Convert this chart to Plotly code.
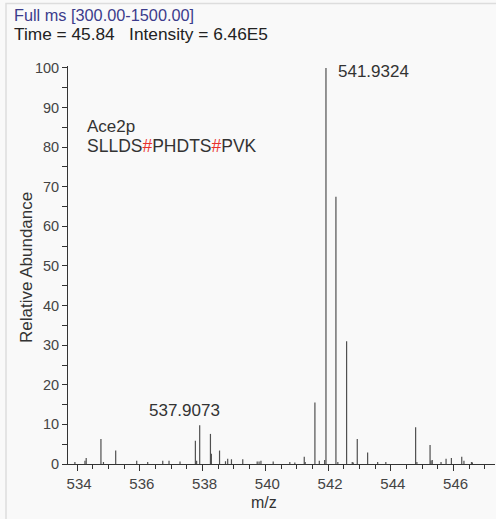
import plotly.graph_objects as go

# peak list: m/z and relative abundance
mz = [533.93, 534.25, 534.29, 534.76, 534.84, 535.23, 535.90, 536.25, 536.73, 536.93,
      537.28, 537.77, 537.81, 537.9073, 538.25, 538.28, 538.54, 538.73, 538.80, 538.92,
      539.28, 539.74, 539.80, 539.86, 540.25, 540.78, 540.94, 541.24, 541.27, 541.58,
      541.72, 541.89, 541.9324, 542.25, 542.31, 542.59, 542.77, 542.80, 542.93, 543.26,
      543.58, 543.84, 544.79, 544.83, 545.25, 545.28, 545.32, 545.60, 545.76, 545.93,
      546.26, 546.33, 546.57, 546.60]
abund = [0.5, 0.8, 1.5, 6.3, 0.5, 3.4, 0.8, 0.5, 0.8, 0.8,
         0.6, 5.9, 0.8, 9.8, 7.6, 2.6, 3.4, 0.7, 1.3, 1.2,
         1.2, 0.6, 0.6, 0.8, 0.6, 0.5, 0.4, 1.8, 0.5, 15.5,
         0.8, 1.0, 100.0, 67.5, 0.5, 31.0, 0.5, 0.4, 6.3, 2.9,
         0.5, 0.5, 9.3, 0.5, 4.8, 0.9, 1.0, 0.5, 1.3, 1.5,
         1.8, 0.8, 0.5, 0.4]

labelled_mz = [541.9324, 537.9073]
labelled_ab = [100.0, 9.8]
labelled_txt = ["541.9324", "537.9073"]

x_ticks = [534, 536, 538, 540, 542, 544, 546]
y_ticks = [0, 10, 20, 30, 40, 50, 60, 70, 80, 90, 100]

FONT = "Liberation Sans, Arial, sans-serif"

W, H = 496, 519
L, R, T, B = 68, 1, 66, 55
pw, ph = W - L - R, H - T - B


def px(x):
    return (x - L) / pw


def py(y):
    return 1 - (y - T) / ph


xs, ys = [], []
for m, a in zip(mz, abund):
    xs += [m, m, None]
    ys += [0, a, None]

fig = go.Figure()
fig.add_trace(go.Scatter(x=xs, y=ys, mode="lines",
                         line=dict(color="#505050", width=1.2),
                         hoverinfo="skip", showlegend=False))

fig.update_layout(
    width=W, height=H,
    margin=dict(l=L, r=R, t=T, b=B),
    paper_bgcolor="#f9f9f9", plot_bgcolor="#f9f9f9",
    font=dict(family=FONT, size=14, color="#333333"),
    showlegend=False,
)
fig.update_xaxes(
    range=[533.71, 547.32], tickvals=x_ticks, ticktext=[str(t) for t in x_ticks],
    showgrid=False, zeroline=False, showline=True, linecolor="#333333", linewidth=1,
    ticks="outside", ticklen=6, tickcolor="#333333", ticklabelshift=2,
    minor=dict(dtick=0.5, tick0=534, ticks="outside", ticklen=4, tickcolor="#333333", showgrid=False),
    tickfont=dict(size=15, color="#444444"),
)
fig.update_yaxes(
    range=[0, 100.5], tickvals=y_ticks, ticktext=[str(t) for t in y_ticks],
    showgrid=False, zeroline=False, showline=True, linecolor="#333333", linewidth=1,
    ticks="outside", ticklen=5, tickcolor="#333333",
    minor=dict(dtick=5, ticks="outside", ticklen=5, tickcolor="#333333", showgrid=False),
    tickfont=dict(size=14.5, color="#444444"),
)

# axis titles
fig.add_annotation(x=px(264), y=py(502), xref="paper", yref="paper", text="m/z",
                   showarrow=False, xanchor="center", yanchor="middle",
                   font=dict(size=16, color="#333333"))
fig.add_annotation(x=px(26), y=py(268), xref="paper", yref="paper", text="Relative Abundance",
                   showarrow=False, xanchor="center", yanchor="middle", textangle=-90,
                   font=dict(size=17, color="#333333"))

# peak labels
fig.add_annotation(x=labelled_mz[0], y=labelled_ab[0], text=labelled_txt[0],
                   xref="x", yref="y", showarrow=False, xanchor="left", yanchor="middle",
                   xshift=10, yshift=-4, font=dict(size=17, color="#333333"))
fig.add_annotation(x=labelled_mz[1], y=labelled_ab[1], text=labelled_txt[1],
                   xref="x", yref="y", showarrow=False, xanchor="center", yanchor="bottom",
                   xshift=-15, yshift=3, font=dict(size=17, color="#333333"))

# header text
fig.add_annotation(x=px(12), y=py(15), xref="paper", yref="paper", text="Full ms [300.00-1500.00]",
                   showarrow=False, xanchor="left", yanchor="middle",
                   font=dict(size=16.3, color="#3c3c8c"))
fig.add_annotation(x=px(12), y=py(34), xref="paper", yref="paper",
                   text="Time = 45.84&nbsp;&nbsp;&nbsp;Intensity = 6.46E5",
                   showarrow=False, xanchor="left", yanchor="middle",
                   font=dict(size=17.3, color="#222222"))
# peptide annotation
fig.add_annotation(x=px(85), y=py(127), xref="paper", yref="paper", text="Ace2p",
                   showarrow=False, xanchor="left", yanchor="middle",
                   font=dict(size=17, color="#333333"))
fig.add_annotation(x=px(85), y=py(146), xref="paper", yref="paper",
                   text="SLLDS<span style='color:#e8322c'>#</span>PHDTS<span style='color:#e8322c'>#</span>PVK",
                   showarrow=False, xanchor="left", yanchor="middle",
                   font=dict(size=17.5, color="#333333"))

# frame
fig.add_shape(type="rect", xref="paper", yref="paper",
              x0=px(6), x1=px(W + 5), y0=py(H + 5), y1=py(3.5),
              line=dict(color="#dddddd", width=1.5), layer="below")

fig.write_html("out.html")
